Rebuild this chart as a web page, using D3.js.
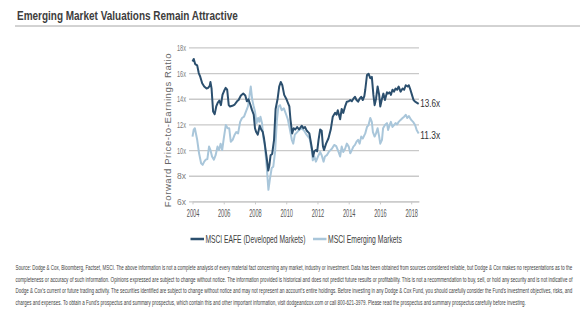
<!doctype html>
<html>
<head>
  <meta charset="utf-8">
  <script src="https://d3js.org/d3.v7.min.js"></script>
  <style>
    body { margin: 0; background: #fff; }
    text { font-family: "Liberation Sans Narrow", "Liberation Sans", Arial, sans-serif; }
  </style>
</head>
<body>
  <script>
    // forward P/E, [decimal year, multiple]
    var eafe = [
      [2004.00,16.9],[2004.08,17.1],[2004.17,16.7],[2004.30,16.6],[2004.40,16.0],[2004.50,15.7],
      [2004.62,15.2],[2004.75,14.95],[2004.90,14.8],[2005.00,14.85],[2005.10,15.0],[2005.15,15.3],
      [2005.22,14.8],[2005.32,13.0],[2005.42,12.8],[2005.52,13.4],[2005.62,13.7],[2005.72,13.85],
      [2005.82,13.5],[2005.92,14.3],[2006.02,14.6],[2006.12,14.85],[2006.22,14.7],[2006.32,13.5],
      [2006.40,13.4],[2006.55,13.45],[2006.70,13.55],[2006.85,13.8],[2006.95,13.9],[2007.10,14.25],
      [2007.25,14.4],[2007.38,14.25],[2007.48,13.8],[2007.58,13.95],[2007.70,13.55],[2007.80,13.15],
      [2007.92,12.75],[2008.00,11.7],[2008.08,11.4],[2008.18,11.2],[2008.30,11.9],[2008.40,11.6],
      [2008.50,11.4],[2008.58,10.9],[2008.68,10.0],[2008.75,9.4],[2008.85,8.4],[2008.92,8.8],
      [2009.00,9.6],[2009.10,9.7],[2009.22,10.8],[2009.32,13.2],[2009.45,14.0],[2009.55,14.95],
      [2009.65,15.3],[2009.75,15.05],[2009.87,14.3],[2010.00,14.0],[2010.10,13.7],[2010.20,13.4],
      [2010.27,12.4],[2010.38,11.3],[2010.48,11.7],[2010.58,11.6],[2010.70,11.8],[2010.82,11.6],
      [2011.00,11.9],[2011.10,11.7],[2011.20,11.8],[2011.32,11.5],[2011.48,11.3],[2011.62,10.3],
      [2011.72,9.5],[2011.80,9.9],[2011.90,10.0],[2011.98,9.9],[2012.07,10.8],[2012.17,11.6],
      [2012.27,11.5],[2012.35,10.3],[2012.42,10.0],[2012.55,10.5],[2012.70,10.9],[2012.85,11.6],
      [2012.98,12.6],[2013.13,12.9],[2013.22,12.75],[2013.30,13.1],[2013.45,12.4],[2013.55,13.2],
      [2013.65,12.9],[2013.77,13.4],[2013.88,13.77],[2014.00,13.8],[2014.10,13.9],[2014.20,13.8],
      [2014.30,14.0],[2014.40,14.15],[2014.50,13.9],[2014.60,13.77],[2014.70,14.0],[2014.80,14.15],
      [2014.90,13.9],[2015.00,14.2],[2015.06,14.7],[2015.17,15.85],[2015.27,15.95],[2015.38,15.6],
      [2015.48,15.7],[2015.58,14.3],[2015.66,13.5],[2015.75,14.0],[2015.85,14.95],[2015.95,14.3],
      [2016.02,13.4],[2016.13,14.0],[2016.22,14.4],[2016.32,13.9],[2016.45,14.5],[2016.52,14.4],
      [2016.62,14.5],[2016.70,14.3],[2016.80,14.7],[2016.90,14.55],[2017.00,14.8],[2017.10,14.7],
      [2017.20,14.95],[2017.32,14.55],[2017.45,14.8],[2017.55,14.7],[2017.65,15.05],[2017.77,14.95],
      [2017.85,15.05],[2017.95,14.7],[2018.05,14.3],[2018.15,13.9],[2018.25,13.77],[2018.35,13.7],
      [2018.48,13.6]
    ];

    var emerging = [
      [2004.00,11.05],[2004.08,11.6],[2004.15,11.7],[2004.30,10.8],[2004.42,9.75],[2004.55,8.97],
      [2004.65,8.85],[2004.75,9.1],[2004.85,9.25],[2004.95,9.3],[2005.06,10.27],[2005.15,10.0],
      [2005.25,9.5],[2005.37,9.25],[2005.48,9.6],[2005.60,10.27],[2005.70,10.0],[2005.80,10.5],
      [2005.90,10.0],[2006.00,10.9],[2006.13,11.95],[2006.25,11.7],[2006.35,11.7],[2006.45,10.65],
      [2006.57,10.8],[2006.70,11.2],[2006.80,11.4],[2006.92,11.3],[2007.05,12.2],[2007.17,12.5],
      [2007.30,12.6],[2007.42,13.0],[2007.55,13.4],[2007.64,14.16],[2007.73,14.95],[2007.82,13.95],
      [2007.90,13.5],[2008.00,13.0],[2008.10,12.1],[2008.20,12.5],[2008.28,12.2],[2008.35,12.6],
      [2008.45,12.1],[2008.54,10.9],[2008.62,10.5],[2008.75,8.7],[2008.86,6.9],[2008.95,7.7],
      [2009.07,8.6],[2009.17,8.7],[2009.29,9.9],[2009.40,12.3],[2009.50,13.4],[2009.60,13.5],
      [2009.71,13.1],[2009.85,13.25],[2010.00,12.75],[2010.10,12.4],[2010.22,11.7],[2010.36,10.8],
      [2010.45,10.5],[2010.55,11.2],[2010.70,11.4],[2010.85,11.6],[2011.00,11.7],[2011.15,11.5],
      [2011.30,11.2],[2011.50,10.9],[2011.64,10.0],[2011.70,9.2],[2011.80,9.5],[2011.90,9.1],
      [2012.07,9.6],[2012.17,9.85],[2012.27,9.6],[2012.39,9.1],[2012.48,9.5],[2012.60,9.6],
      [2012.75,9.9],[2012.92,10.1],[2013.07,10.4],[2013.20,10.3],[2013.35,9.85],[2013.45,9.5],
      [2013.55,10.27],[2013.65,9.85],[2013.77,10.1],[2013.88,10.5],[2014.00,10.27],[2014.10,9.75],
      [2014.20,10.0],[2014.30,10.27],[2014.40,10.4],[2014.50,10.65],[2014.60,10.8],[2014.70,10.5],
      [2014.80,11.05],[2014.90,10.9],[2015.06,11.3],[2015.17,11.8],[2015.27,11.95],[2015.38,12.5],
      [2015.48,12.2],[2015.55,11.4],[2015.66,11.05],[2015.75,11.3],[2015.85,11.7],[2015.95,11.05],
      [2016.02,10.5],[2016.13,10.8],[2016.20,11.7],[2016.32,11.95],[2016.45,12.1],[2016.52,11.57],
      [2016.62,11.95],[2016.70,12.2],[2016.80,11.8],[2016.90,11.95],[2017.00,12.1],[2017.10,12.0],
      [2017.20,12.2],[2017.32,12.35],[2017.45,12.5],[2017.55,12.6],[2017.65,12.75],[2017.75,12.5],
      [2017.85,12.65],[2018.00,12.35],[2018.12,12.2],[2018.25,11.95],[2018.35,11.57],[2018.48,11.3]
    ];

    var seriesNames = ["MSCI EAFE (Developed Markets)", "MSCI Emerging Markets"];
    var yearTicks = [2004, 2006, 2008, 2010, 2012, 2014, 2016, 2018];
    var peTicks = [6, 8, 10, 12, 14, 16, 18];

    var title = "Emerging Market Valuations Remain Attractive";
    var footnote = [
      "Source: Dodge & Cox, Bloomberg, Factset, MSCI. The above information is not a complete analysis of every material fact concerning any market, industry or investment. Data has been obtained from sources considered reliable, but Dodge & Cox makes no representations as to the",
      "completeness or accuracy of such information. Opinions expressed are subject to change without notice. The information provided is historical and does not predict future results or profitability. This is not a recommendation to buy, sell, or hold any security and is not indicative of",
      "Dodge & Cox's current or future trading activity. The securities identified are subject to change without notice and may not represent an account's entire holdings. Before investing in any Dodge & Cox Fund, you should carefully consider the Fund's investment objectives, risks, and",
      "charges and expenses. To obtain a Fund's prospectus and summary prospectus, which contain this and other important information, visit dodgeandcox.com or call 800-621-3979. Please read the prospectus and summary prospectus carefully before investing."
    ];

    var colors = ["#2b4f6e", "#a9c6da"];

    var width = 580, height = 324;
    var svg = d3.select("body").append("svg")
      .attr("width", width)
      .attr("height", height);

    // squeeze a text element horizontally so it spans w pixels
    function squeezeTo(node, w, extra) {
      var n = node.getComputedTextLength();
      var x0 = +node.getAttribute("x") || 0;
      node.setAttribute("x", 0);
      node.setAttribute("transform", (extra || "") + " translate(" + x0 + ",0) scale(" + (w / n) + ",1)");
      return w / n;
    }

    // heading with rule underneath
    var head = svg.append("text")
      .attr("x", 17).attr("y", 20)
      .attr("font-size", 13.5).attr("font-weight", "bold")
      .attr("fill", "#3d3d3d")
      .text(title);
    squeezeTo(head.node(), 221);
    svg.append("line")
      .attr("x1", 15).attr("x2", 580).attr("y1", 26).attr("y2", 26)
      .attr("stroke", "#a6a6a6").attr("stroke-width", 1);

    // scales
    var x = d3.scaleLinear().domain([2004, 2018.5]).range([192.5, 419]);
    var y = d3.scaleLinear().domain([6, 18]).range([201.4, 47.4]);

    // gridlines + y labels
    var yAxis = d3.axisLeft(y)
      .tickValues(peTicks)
      .tickFormat(function(d) { return d + "x"; })
      .tickSize(-(419 - 189))
      .tickPadding(3);
    var gy = svg.append("g")
      .attr("transform", "translate(189,0)")
      .call(yAxis);
    gy.select(".domain").remove();
    gy.selectAll("line").attr("stroke", "#c9c9c9").attr("stroke-width", 1.3);
    gy.selectAll("text")
      .attr("fill", "#7a7a7a").attr("font-size", 9.5)
      .each(function() { squeezeTo(this, 9); });

    // x axis
    var xAxis = d3.axisBottom(x)
      .tickValues(yearTicks)
      .tickFormat(d3.format("d"))
      .tickSize(3)
      .tickSizeOuter(0)
      .tickPadding(6);
    var gx = svg.append("g")
      .attr("transform", "translate(0," + y(6) + ")")
      .call(xAxis);
    gx.select(".domain").attr("stroke", "#c9c9c9").attr("stroke-width", 1.3);
    gx.selectAll("line").attr("stroke", "#c9c9c9");
    gx.selectAll("text")
      .attr("fill", "#555").attr("font-size", 10)
      .each(function() { squeezeTo(this, 12.5); });

    // y axis title
    svg.append("text")
      .attr("transform", "translate(171,130) rotate(-90)")
      .attr("text-anchor", "middle")
      .attr("font-family", "Liberation Sans, Arial, sans-serif")
      .attr("font-size", 9.5)
      .attr("letter-spacing", 0.6)
      .attr("fill", "#666")
      .text("Forward Price-to-Earnings Ratio");

    // lines, light series first so the dark one sits on top
    var line = d3.line()
      .x(function(d) { return x(d[0]); })
      .y(function(d) { return y(d[1]); });

    [emerging, eafe].forEach(function(s, i) {
      svg.append("path")
        .datum(s)
        .attr("fill", "none")
        .attr("stroke", colors[1 - i])
        .attr("stroke-width", 2)
        .attr("stroke-linejoin", "round")
        .attr("d", line);
    });

    // end-of-series labels
    [eafe, emerging].forEach(function(s, i) {
      var last = s[s.length - 1];
      var t = svg.append("text")
        .attr("x", x(last[0]) + 1.5)
        .attr("y", y(last[1]) + 3.5 + (i === 1 ? 2.5 : 0))
        .attr("font-size", 10).attr("fill", "#333")
        .text(last[1].toFixed(1) + "x");
      squeezeTo(t.node(), 20);
    });

    // legend
    var legendX = [190.5, 313], legendW = [100, 74];
    seriesNames.forEach(function(name, i) {
      var g = svg.append("g").attr("transform", "translate(" + legendX[i] + ",239)");
      g.append("line")
        .attr("x1", 0).attr("x2", 13.5)
        .attr("stroke", colors[i]).attr("stroke-width", 2.5);
      var t = g.append("text")
        .attr("x", 15).attr("y", 3.5)
        .attr("font-size", 10).attr("fill", "#404040")
        .text(name);
      squeezeTo(t.node(), legendW[i]);
    });

    // disclosure text: first three lines run full width, the last keeps the same squeeze
    var foot = svg.append("g").attr("fill", "#404040").attr("font-size", 7.2);
    var rows = foot.selectAll("text")
      .data(footnote)
      .enter().append("text")
      .attr("x", 15.5)
      .attr("y", function(d, i) { return 270.5 + i * 11.5; })
      .text(function(d) { return d; });
    var k = 557 / rows.node().getComputedTextLength();
    rows.each(function(d, i) {
      squeezeTo(this, i < 3 ? 557 : this.getComputedTextLength() * k);
    });
  </script>
</body>
</html>
